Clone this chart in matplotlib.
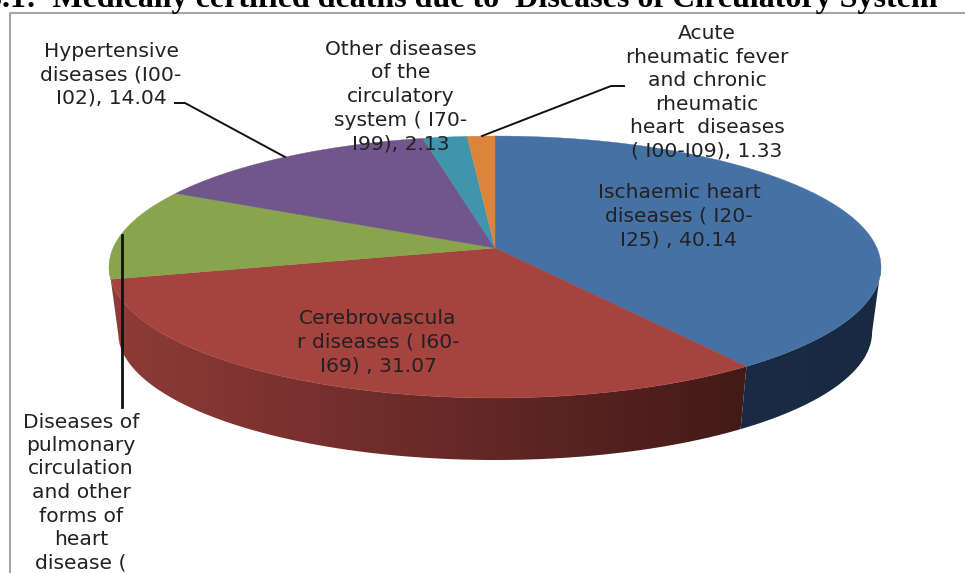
import numpy as np
import matplotlib
matplotlib.use("Agg")
import matplotlib.pyplot as plt
from matplotlib.patches import Polygon

# Values clockwise from the top of the pie
causes = ["Ischaemic", "Cerebrovascular", "Pulmonary", "Hypertensive", "Other", "Rheumatic"]
shares = [40.14, 31.07, 11.29, 14.04, 2.13, 1.33]
top_colors = ["#4571a5", "#a5433f", "#88a44c", "#71568c", "#4095ad", "#db843d"]
side_left = ["#1a2c44", "#8f3b38", "#8d9a66", "#71568c", "#4095ad", "#db843d"]
side_right = ["#182a42", "#431a18", "#8d9a66", "#71568c", "#4095ad", "#db843d"]

label_texts = [
    "Ischaemic heart\ndiseases ( I20-\nI25) , 40.14",
    "Cerebrovascula\nr diseases ( I60-\nI69) , 31.07",
    "Diseases of\npulmonary\ncirculation\nand other\nforms of\nheart\ndisease (",
    "Hypertensive\ndiseases (I00-\nI02), 14.04",
    "Other diseases\nof the\ncirculatory\nsystem ( I70-\nI99), 2.13",
    "Acute\nrheumatic fever\nand chronic\nrheumatic\nheart  diseases\n( I00-I09), 1.33",
]
label_x = [679, 378, 81, 111, 401, 707]
label_y = [216.5, 342.5, 492.5, 75, 96.5, 92.5]

title = "3.1:  Medically certified deaths due to  Diseases of Circulatory System"

# Pie geometry in pixels: perspective view of a disc
cx, apex_y = 495, 248
half_w, half_h, persp = 381.9, 128.2, 0.145
bottom_scale, bottom_apex_y = 0.977, 313.5


def rim(deg, scale=1.0, y0=apex_y):
    a = np.radians(deg)
    u, v = np.sin(a), np.cos(a)
    d = 1 + persp * v
    return cx + scale * half_w * u / d, y0 - scale * half_h * v / d


fig = plt.figure(figsize=(9.65, 5.73), dpi=100)
ax = fig.add_axes([0, 0, 1, 1])

# gray chart frame, runs off the right and bottom of the picture
ax.plot([970, 10, 10], [13, 13, 580], color="#a6a6a6", lw=1.5, zorder=1)

edges = np.concatenate([[0], np.cumsum(shares)]) / sum(shares) * 360
vis_from = 98.3
vis_to = 261.7

# side wall: a gradient image clipped to each slice's wall
for i in range(len(shares)):
    start = max(edges[i], vis_from)
    end = min(edges[i + 1], vis_to)
    if end <= start:
        continue
    angles = np.linspace(start, end, 120)
    xt, yt = rim(angles)
    xb, yb = rim(angles[::-1], bottom_scale, bottom_apex_y)
    xs = np.r_[xt, xb]
    ys = np.r_[yt, yb]
    cmap = matplotlib.colors.LinearSegmentedColormap.from_list("w", [side_left[i], side_right[i]])
    img = ax.imshow(np.linspace(0, 1, 256).reshape(1, -1), cmap=cmap, aspect="auto", zorder=2,
                    extent=[xs.min(), xs.max(), ys.max(), ys.min()])
    patch = Polygon(np.c_[xs, ys], closed=True, transform=ax.transData, fc="none", ec="none")
    ax.add_patch(patch)
    img.set_clip_path(patch)

# top of the pie
for i in range(len(shares)):
    angles = np.linspace(edges[i], edges[i + 1], 200)
    xs, ys = rim(angles)
    ax.fill(np.r_[cx, xs], np.r_[apex_y, ys], color=top_colors[i], lw=0.3, zorder=3)

# leader lines
ax.plot([175, 185, 285], [103, 103, 157], color="#111111", lw=1.4, zorder=4)
ax.plot([482, 611, 624], [136, 86, 86], color="#111111", lw=1.4, zorder=4)
ax.plot([122, 122], [235, 407], color="#111111", lw=2.0, zorder=4)

for txt, x, y in zip(label_texts, label_x, label_y):
    ax.text(x, y, txt, ha="center", va="center", multialignment="center",
            family="DejaVu Sans", fontsize=14.6, linespacing=1.3, color="#222222", zorder=5)

ax.text(937, 7, title, ha="right", va="baseline", family="Liberation Serif",
        fontweight="bold", fontsize=23, color="black", zorder=5)

ax.set_xlim(0, 965)
ax.set_ylim(573, 0)
ax.axis("off")

fig.savefig("out.png", dpi=100)
